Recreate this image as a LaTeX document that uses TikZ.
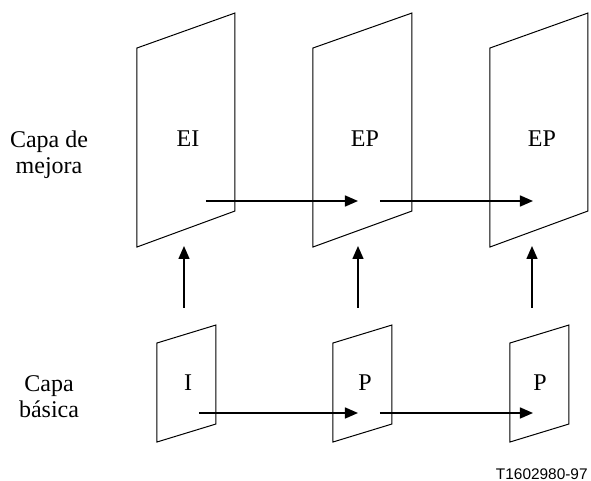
\documentclass[tikz,border=0pt]{standalone}
\usepackage{fontspec}
\setmainfont{Liberation Serif}
\setsansfont{Liberation Sans}
\usetikzlibrary{arrows.meta}

\begin{document}
\begin{tikzpicture}[x=0.5pt, y=-0.5pt,
		frame/.style = {draw, line width=0.5pt},
		every node/.style = {align=center, inner sep=0pt,
			font=\fontsize{12}{13}\selectfont},
		link/.style = {-{Triangle[length=6.5pt, width=5.5pt]}, line width=0.7pt}]
	\useasboundingbox (0,0) rectangle (591,481);
	
	% capa de mejora
	\draw[frame] (137,48) -- (235,13) -- (235,211) -- (137,247) -- cycle;
	\draw[frame] (313,48) -- (412,13) -- (412,211) -- (313,247) -- cycle;
	\draw[frame] (490,48) -- (588,13) -- (588,211) -- (490,247) -- cycle;
	\node (ei)  at (188,139) {EI};
	\node (ep1) at (365,139) {EP};
	\node (ep2) at (542,139) {EP};
	\node (mejora) at (49,155) {Capa de\\mejora};
	
	% capa basica
	\draw[frame] (157,343) -- (216,325) -- (216,424) -- (157,442) -- cycle;
	\draw[frame] (333,343) -- (392,325) -- (392,424) -- (333,442) -- cycle;
	\draw[frame] (510,343) -- (569,325) -- (569,424) -- (510,442) -- cycle;
	\node (i)  at (188,383) {I};
	\node (p1) at (365,383) {P};
	\node (p2) at (540,383) {P};
	\node (basica) at (49,397) {Capa\\básica};
	
	% ends of the arrows
	\coordinate (ei-out)  at (206,201);
	\coordinate (ep1-in)  at (358,201);
	\coordinate (ep1-out) at (380,201);
	\coordinate (ep2-in)  at (533,201);
	\coordinate (i-out)   at (199,413);
	\coordinate (p1-in)   at (358,413);
	\coordinate (p1-out)  at (380,413);
	\coordinate (p2-in)   at (533,413);
	\coordinate (i-up)    at (184,308);
	\coordinate (ei-down) at (184,246);
	\coordinate (p1-up)   at (358,308);
	\coordinate (ep1-down) at (358,246);
	\coordinate (p2-up)   at (532,308);
	\coordinate (ep2-down) at (532,246);
	
	\draw[link] (ei-out) -- (ep1-in);
	\draw[link] (ep1-out) -- (ep2-in);
	\draw[link] (i-out) -- (p1-in);
	\draw[link] (p1-out) -- (p2-in);
	\draw[link] (i-up) -- (ei-down);
	\draw[link] (p1-up) -- (ep1-down);
	\draw[link] (p2-up) -- (ep2-down);
	
	\node[anchor=base east, font=\sffamily\fontsize{7.7}{9}\selectfont] (ref) at (588,480) {T1602980-97};
\end{tikzpicture}
\end{document}
